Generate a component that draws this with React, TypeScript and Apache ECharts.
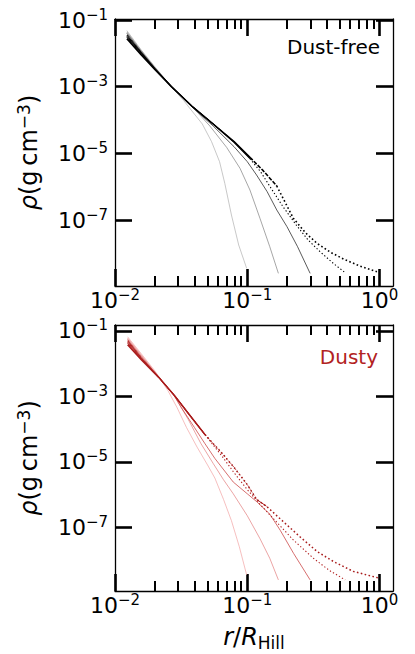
import React, { useEffect, useRef } from 'react';
import * as echarts from 'echarts';

// ---- tick values ----
const xMajorTicks = [0.01, 0.1, 1];
const xMinorTicks = [0.02, 0.03, 0.04, 0.05, 0.06, 0.07, 0.08, 0.09, 0.2, 0.3, 0.4, 0.5, 0.6, 0.7, 0.8, 0.9];
const yTickExponents = [-7, -5, -3, -1];

// ---- Dust-free (top) density profiles: [r/R_Hill, rho (g cm^-3)] ----
const dustFreeA = [
  [0.0123, 2.75e-2], [0.0158, 8.91e-3], [0.02, 3.31e-3], [0.0267, 1.0e-3], [0.038, 2.63e-4],
  [0.0552, 7.59e-5], [0.0794, 2.24e-5], [0.1047, 7.59e-6], [0.1318, 3.02e-6], [0.167, 1.05e-6],
  [0.195, 3.16e-7], [0.223, 1.12e-7], [0.275, 4.17e-8], [0.336, 2.0e-8], [0.427, 1.07e-8],
  [0.533, 6.76e-9], [0.708, 4.17e-9], [0.955, 2.82e-9],
];
const dustFreeA2 = [
  [0.0123, 3.02e-2], [0.0158, 9.33e-3], [0.02, 3.35e-3], [0.0267, 1.0e-3], [0.038, 2.63e-4],
  [0.0552, 7.59e-5], [0.0794, 2.24e-5], [0.1047, 7.59e-6],
];
const dustFreeA3 = [
  [0.0123, 3.24e-2], [0.0158, 1.0e-2], [0.02, 3.4e-3], [0.0267, 1.0e-3], [0.038, 2.63e-4],
  [0.0552, 7.59e-5], [0.0794, 2.2e-5], [0.1047, 7.4e-6],
];
const dustFreeB = [
  [0.0123, 3.55e-2], [0.0158, 1.05e-2], [0.02, 3.47e-3], [0.0267, 1.0e-3], [0.038, 2.63e-4],
  [0.0552, 7.59e-5], [0.0794, 2.14e-5], [0.1047, 6.92e-6], [0.1259, 2.82e-6], [0.1486, 1.0e-6],
  [0.1862, 2.51e-7], [0.2344, 7.08e-8], [0.2884, 2.51e-8], [0.3548, 1.12e-8], [0.4467, 5.01e-9],
  [0.5495, 2.63e-9],
];
const dustFreeC = [
  [0.0123, 3.98e-2], [0.0158, 1.12e-2], [0.02, 3.63e-3], [0.0267, 1.0e-3], [0.038, 2.51e-4],
  [0.0552, 6.61e-5], [0.0794, 1.58e-5], [0.1, 5.62e-6], [0.1175, 2.24e-6], [0.1413, 7.08e-7],
  [0.167, 2.0e-7], [0.1995, 6.31e-8], [0.2399, 1.58e-8], [0.2985, 2.51e-9],
];
const dustFreeD = [
  [0.0123, 4.37e-2], [0.0158, 1.2e-2], [0.02, 3.8e-3], [0.0267, 1.0e-3], [0.0355, 3.47e-4],
  [0.0427, 1.58e-4], [0.0521, 6.61e-5], [0.0698, 1.51e-5], [0.0881, 3.55e-6], [0.1047, 7.94e-7],
  [0.1247, 1.12e-7], [0.1479, 1.58e-8], [0.1718, 2.51e-9],
];
const dustFreeE = [
  [0.0123, 4.79e-2], [0.0158, 1.26e-2], [0.02, 3.98e-3], [0.0267, 1.0e-3], [0.0331, 3.8e-4],
  [0.0398, 1.51e-4], [0.0457, 7.59e-5], [0.0537, 2.24e-5], [0.0617, 5.62e-6], [0.0676, 1.26e-6],
  [0.0759, 1.41e-7], [0.0861, 1.78e-8], [0.0989, 3.55e-9],
];

// ---- Dusty (bottom) density profiles ----
const dustyA = [
  [0.01245, 3.8e-2], [0.0158, 1.32e-2], [0.0214, 3.8e-3], [0.0282, 1.05e-3], [0.0355, 3.16e-4],
  [0.0479, 6.76e-5], [0.0631, 2.0e-5], [0.0783, 7.24e-6], [0.1, 2.0e-6], [0.1175, 7.08e-7],
  [0.1396, 4.37e-7], [0.1778, 1.78e-7], [0.2512, 5.01e-8], [0.3388, 1.78e-8], [0.4487, 8.91e-9],
  [0.631, 4.47e-9], [1.0, 2.75e-9],
];
const dustyA2 = [
  [0.01245, 4.17e-2], [0.0158, 1.38e-2], [0.0214, 3.8e-3], [0.0282, 1.05e-3], [0.0355, 3.16e-4],
  [0.0479, 6.76e-5], [0.0631, 2.0e-5], [0.0783, 7.24e-6], [0.1, 2.0e-6], [0.1175, 7.08e-7],
  [0.1396, 4.37e-7],
];
const dustyA3 = [
  [0.01245, 4.57e-2], [0.0158, 1.45e-2], [0.0214, 3.8e-3], [0.0282, 1.05e-3], [0.0355, 3.16e-4],
  [0.0479, 6.76e-5],
];
const dustyB = [
  [0.01245, 5.01e-2], [0.0158, 1.51e-2], [0.0214, 3.8e-3], [0.0282, 1.05e-3], [0.0355, 3.16e-4],
  [0.0479, 6.76e-5], [0.0631, 1.66e-5], [0.0783, 5.01e-6], [0.1, 1.41e-6], [0.1247, 5.01e-7],
  [0.1585, 1.78e-7], [0.2228, 4.07e-8], [0.3162, 1.12e-8], [0.4169, 4.79e-9], [0.5495, 2.45e-9],
];
const dustyC = [
  [0.01245, 5.5e-2], [0.0158, 1.66e-2], [0.0214, 3.89e-3], [0.0282, 1.0e-3], [0.0318, 4.47e-4],
  [0.0398, 1.12e-4], [0.0479, 3.55e-5], [0.0569, 1.26e-5], [0.0783, 2.4e-6], [0.1, 1.05e-6],
  [0.1178, 6.03e-7], [0.1479, 2.51e-7], [0.1778, 7.94e-8], [0.2239, 1.58e-8], [0.2985, 2.45e-9],
];
const dustyD = [
  [0.01245, 6.03e-2], [0.0158, 1.82e-2], [0.0214, 3.98e-3], [0.0282, 1.0e-3], [0.0357, 2.0e-4],
  [0.0447, 3.55e-5], [0.0552, 8.91e-6], [0.0661, 2.82e-6], [0.0783, 1.05e-6], [0.1, 2.24e-7],
  [0.1247, 4.47e-8], [0.1479, 1.12e-8], [0.1718, 2.45e-9],
];
const dustyE = [
  [0.01245, 6.61e-2], [0.0158, 2.0e-2], [0.02, 6.03e-3], [0.0251, 1.51e-3], [0.0295, 4.47e-4],
  [0.0347, 1.12e-4], [0.0417, 2.82e-5], [0.0501, 7.94e-6], [0.0569, 3.16e-6], [0.0661, 7.08e-7],
  [0.0759, 1.58e-7], [0.0871, 2.51e-8], [0.0989, 3.47e-9],
];

// ---- layout / style ----
const FONT = 'DejaVu Sans';
const X_MIN = 0.01;
const X_MAX = 1.263;
const TOP_Y = [10 ** -8.98, 10 ** -0.97];
const BOT_Y = [10 ** -8.95, 10 ** -0.82];
const RED = '#b22222';
const DOT: number[] = [1.3, 2.2];

const tickRich = {
  b: { fontFamily: FONT, fontSize: 22, lineHeight: 26, color: '#000' },
  s: { fontFamily: FONT, fontSize: 15, lineHeight: 16, color: '#000', verticalAlign: 'top' },
};
const expLabel = (v: number) => {
  const e = Math.round(v);
  return `{b|10}{s|${e < 0 ? '\u2212' : ''}${Math.abs(e)}}`;
};
const spine = { show: true, onZero: false, lineStyle: { color: '#000', width: 1.3 } };
const noSplit = { show: false };

function xAxesFor(g: number, withName: boolean) {
  const lmin = Math.log10(X_MIN);
  const lmax = Math.log10(X_MAX);
  const major = xMajorTicks.map(Math.log10);
  const minor = xMinorTicks.map(Math.log10);
  const majorTick = { show: true, inside: true, length: 17, lineStyle: { color: '#000', width: 2.6 }, customValues: major };
  const minorTick = { show: true, inside: true, length: 10, lineStyle: { color: '#000', width: 2 }, customValues: minor };
  return [
    { type: 'log', gridIndex: g, min: X_MIN, max: X_MAX, logBase: 10, show: false, splitLine: noSplit },
    {
      type: 'value', gridIndex: g, position: 'bottom', min: lmin, max: lmax,
      axisLine: spine, axisTick: majorTick, splitLine: noSplit,
      axisLabel: { show: true, customValues: major, formatter: expLabel, rich: tickRich, margin: 1 },
      name: withName ? '{i|r}{n|/}{i|R}{sub|Hill}' : '',
      nameLocation: 'middle', nameGap: 32,
      nameTextStyle: {
        rich: {
          i: { fontFamily: FONT, fontSize: 24, fontStyle: 'italic', color: '#000', lineHeight: 28 },
          n: { fontFamily: FONT, fontSize: 24, color: '#000', lineHeight: 28 },
          sub: { fontFamily: FONT, fontSize: 17, color: '#000', lineHeight: 20, verticalAlign: 'bottom' },
        },
      },
    },
    {
      type: 'value', gridIndex: g, position: 'bottom', min: lmin, max: lmax,
      axisLine: { show: false, onZero: false }, axisTick: minorTick, axisLabel: { show: false }, splitLine: noSplit,
    },
    {
      type: 'value', gridIndex: g, position: 'top', min: lmin, max: lmax,
      axisLine: spine, axisTick: majorTick, axisLabel: { show: false }, splitLine: noSplit,
    },
    {
      type: 'value', gridIndex: g, position: 'top', min: lmin, max: lmax,
      axisLine: { show: false, onZero: false }, axisTick: minorTick, axisLabel: { show: false }, splitLine: noSplit,
    },
  ];
}

function yAxesFor(g: number, ext: number[]) {
  const lmin = Math.log10(ext[0]);
  const lmax = Math.log10(ext[1]);
  const tick = { show: true, inside: true, length: 17, lineStyle: { color: '#000', width: 2.6 }, customValues: yTickExponents };
  return [
    { type: 'log', gridIndex: g, min: ext[0], max: ext[1], logBase: 10, show: false, splitLine: noSplit },
    {
      type: 'value', gridIndex: g, position: 'left', min: lmin, max: lmax,
      axisLine: spine, axisTick: tick, splitLine: noSplit,
      axisLabel: { show: true, customValues: yTickExponents, formatter: expLabel, rich: tickRich, margin: 7 },
      name: '{i|\u03c1}{n|(g\u2009cm}{s|\u22123}{n|)}',
      nameLocation: 'middle', nameRotate: 90, nameGap: 72,
      nameTextStyle: {
        rich: {
          i: { fontFamily: FONT, fontSize: 24, fontStyle: 'italic', color: '#000', lineHeight: 28 },
          n: { fontFamily: FONT, fontSize: 24, color: '#000', lineHeight: 28 },
          s: { fontFamily: FONT, fontSize: 17, color: '#000', lineHeight: 18, verticalAlign: 'top' },
        },
      },
    },
    {
      type: 'value', gridIndex: g, position: 'right', min: lmin, max: lmax,
      axisLine: spine, axisTick: tick, axisLabel: { show: false }, splitLine: noSplit,
    },
  ];
}

type Curve = { data: number[][]; color: string; width: number; breaks: number[]; types: any[] };

const topCurves: Curve[] = [
  { data: dustFreeE, color: '#b0b0b0', width: 0.7, breaks: [], types: ['solid'] },
  { data: dustFreeD, color: '#808080', width: 0.7, breaks: [], types: ['solid'] },
  { data: dustFreeC, color: '#303030', width: 0.8, breaks: [], types: ['solid'] },
  { data: dustFreeB, color: '#000000', width: 1.1, breaks: [0.1047], types: ['solid', DOT] },
  { data: dustFreeA3, color: '#000000', width: 1.0, breaks: [], types: ['solid'] },
  { data: dustFreeA2, color: '#000000', width: 1.0, breaks: [], types: ['solid'] },
  { data: dustFreeA, color: '#000000', width: 1.6, breaks: [0.1047, 0.167], types: ['solid', [4, 1.5], [1.6, 2.4]] },
];
const botCurves: Curve[] = [
  { data: dustyE, color: '#f2a4a4', width: 0.7, breaks: [], types: ['solid'] },
  { data: dustyD, color: '#e27c7c', width: 0.7, breaks: [], types: ['solid'] },
  { data: dustyC, color: '#cc4a4a', width: 0.8, breaks: [], types: ['solid'] },
  { data: dustyB, color: RED, width: 1.1, breaks: [0.0479], types: ['solid', DOT] },
  { data: dustyA3, color: RED, width: 1.0, breaks: [], types: ['solid'] },
  { data: dustyA2, color: RED, width: 1.0, breaks: [0.0479, 0.1175], types: ['solid', DOT, 'solid'] },
  { data: dustyA, color: '#a81c1c', width: 1.5, breaks: [0.0479], types: ['solid', [1.6, 2.4]] },
];

function buildSeries(curves: Curve[], xi: number, yi: number) {
  const out: any[] = [];
  curves.forEach((c) => {
    const bounds = [-Infinity, ...c.breaks, Infinity];
    for (let k = 0; k < bounds.length - 1; k++) {
      const seg = c.data.filter((p) => p[0] >= bounds[k] && p[0] <= bounds[k + 1]);
      if (seg.length < 2) continue;
      out.push({
        type: 'line', xAxisIndex: xi, yAxisIndex: yi, data: seg,
        showSymbol: false, symbol: 'none', silent: true, smooth: false,
        lineStyle: { color: c.color, width: c.width, type: c.types[k], cap: 'butt', join: 'round' },
      });
    }
  });
  return out;
}

const option: any = {
  animation: false,
  backgroundColor: '#ffffff',
  textStyle: { fontFamily: FONT },
  grid: [
    { left: 115, top: 19, width: 278, height: 267, outerBoundsMode: 'none', containLabel: false },
    { left: 115, top: 325, width: 278, height: 266, outerBoundsMode: 'none', containLabel: false },
  ],
  xAxis: [...xAxesFor(0, false), ...xAxesFor(1, true)],
  yAxis: [...yAxesFor(0, TOP_Y), ...yAxesFor(1, BOT_Y)],
  series: [...buildSeries(topCurves, 0, 0), ...buildSeries(botCurves, 5, 3)],
  graphic: [
    {
      type: 'text', x: 380, y: 47, silent: true,
      style: { text: 'Dust-free', fontFamily: FONT, fontSize: 20, fill: '#000', align: 'right', verticalAlign: 'middle', textAlign: 'right', textVerticalAlign: 'middle' },
    },
    {
      type: 'text', x: 378, y: 357, silent: true,
      style: { text: 'Dusty', fontFamily: FONT, fontSize: 20, fill: RED, align: 'right', verticalAlign: 'middle', textAlign: 'right', textVerticalAlign: 'middle' },
    },
  ],
};

export default function App() {
  const ref = useRef<HTMLDivElement>(null);
  useEffect(() => {
    const chart = echarts.init(ref.current!, null, { renderer: 'svg', width: 415, height: 654 });
    chart.setOption(option);
    return () => chart.dispose();
  }, []);
  return <div ref={ref} style={{ position: 'fixed', left: 0, top: 0, width: 415, height: 654, background: '#fff' }} />;
}
